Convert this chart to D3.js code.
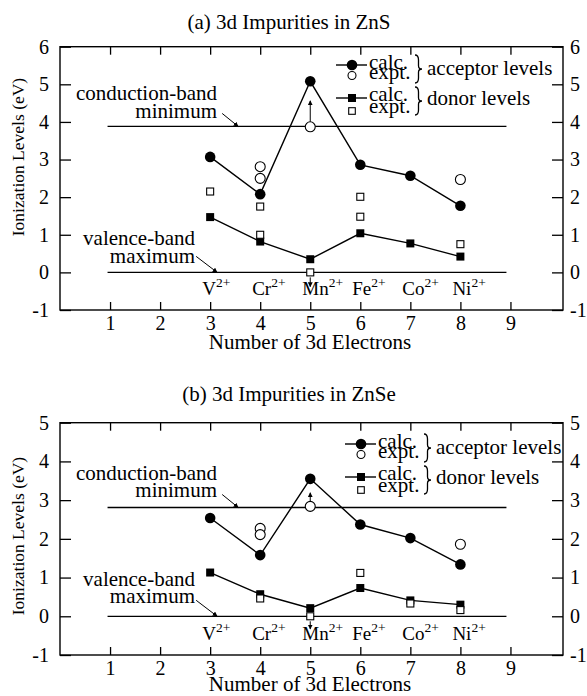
<!DOCTYPE html>
<html>
<head>
<meta charset="utf-8">
<script src="https://cdn.jsdelivr.net/npm/d3@7"></script>
<style>
  body { margin: 0; background: #fff; }
  text { font-family: "Liberation Serif", "Times New Roman", serif; fill: #000; }
</style>
</head>
<body>
<svg id="chart" width="587" height="696"></svg>
<script>
// Number of 3d electrons and the impurity ion for each
const electrons = [3, 4, 5, 6, 7, 8];
const ions = ["V", "Cr", "Mn", "Fe", "Co", "Ni"];
const xTicks = [1, 2, 3, 4, 5, 6, 7, 8, 9];

// ZnS host: ionization levels in eV
const znsYTicks = [-1, 0, 1, 2, 3, 4, 5, 6];
const znsAcceptorCalc = [3.07, 2.08, 5.08, 2.86, 2.57, 1.77];
const znsAcceptorExpt = [[4, 2.81], [4, 2.50], [5, 3.87], [8, 2.47]];
const znsDonorCalc = [1.47, 0.82, 0.35, 1.04, 0.77, 0.42];
const znsDonorExpt = [[3, 2.15], [4, 1.75], [4, 1.00], [5, 0.00], [6, 2.01], [6, 1.48], [8, 0.75]];
const znsConductionMin = 3.88;
const znsValenceMax = 0;
// bounds on Mn2+ levels: [electrons, measured level, arrow end]
const znsBounds = [[5, 3.87, 4.56], [5, 0.00, -0.38]];

// ZnSe host: ionization levels in eV
const znseYTicks = [-1, 0, 1, 2, 3, 4, 5];
const znseAcceptorCalc = [2.54, 1.58, 3.55, 2.37, 2.02, 1.34];
const znseAcceptorExpt = [[4, 2.27], [4, 2.11], [5, 2.84], [8, 1.86]];
const znseDonorCalc = [1.13, 0.57, 0.21, 0.73, 0.41, 0.30];
const znseDonorExpt = [[4, 0.46], [5, 0.00], [6, 1.12], [7, 0.33], [8, 0.16]];
const znseConductionMin = 2.81;
const znseValenceMax = 0;
const znseBounds = [[5, 2.84, 3.19], [5, 0.00, -0.33]];

const SERIF = "Liberation Serif, Times New Roman, serif";
const svg = d3.select("#chart");
const defs = svg.append("defs");
defs.append("marker")
  .attr("id", "head")
  .attr("viewBox", "0 0 10 10")
  .attr("refX", 9).attr("refY", 5)
  .attr("markerWidth", 5).attr("markerHeight", 5)
  .attr("markerUnits", "userSpaceOnUse")
  .attr("orient", "auto")
  .append("path").attr("d", "M0,0 L10,5 L0,10 Z").attr("fill", "#000");

const x = d3.scaleLinear().domain([0, 10.05]).range([60, 563]);

// right-facing curly brace between y0 and y1
function brace(x0, y0, y1, w) {
  const h = y1 - y0, m = (y0 + y1) / 2, xm = x0 + w * 0.5;
  return `M${x0},${y0} Q${xm},${y0} ${xm},${y0 + h * 0.18}` +
    ` L${xm},${m - h * 0.12} Q${xm},${m} ${x0 + w},${m}` +
    ` Q${xm},${m} ${xm},${m + h * 0.12} L${xm},${y1 - h * 0.18}` +
    ` Q${xm},${y1} ${x0},${y1}`;
}

function panel(cfg) {
  const g = svg.append("g").attr("font-family", SERIF);
  const y = d3.scaleLinear().domain(cfg.yDomain).range([cfg.bottom, cfg.top]);
  const x0 = x.range()[0], x1 = x.range()[1];

  // title
  g.append("text").attr("x", 289).attr("y", cfg.titleY)
    .attr("text-anchor", "middle").attr("font-size", 21).text(cfg.title);

  // frame
  g.append("rect").attr("x", x0).attr("y", cfg.top)
    .attr("width", x1 - x0).attr("height", cfg.bottom - cfg.top)
    .attr("fill", "none").attr("stroke", "#000").attr("stroke-width", 1.4);

  // inward ticks on all four sides
  const fmt = d => d < 0 ? "-" + Math.abs(d) : String(d);
  const axB = d3.axisBottom(x).tickValues(xTicks).tickSize(-8).tickSizeOuter(0).tickPadding(6).tickFormat(d3.format("d"));
  const axT = d3.axisTop(x).tickValues(xTicks).tickSize(-8).tickSizeOuter(0).tickFormat("");
  const axL = d3.axisLeft(y).tickValues(cfg.yTicks).tickSize(-11).tickSizeOuter(0).tickPadding(11).tickFormat(fmt);
  const axR = d3.axisRight(y).tickValues(cfg.yTicks).tickSize(-11).tickSizeOuter(0).tickPadding(7).tickFormat(fmt);
  [[axB, `translate(0,${cfg.bottom})`], [axT, `translate(0,${cfg.top})`],
   [axL, `translate(${x0},0)`], [axR, `translate(${x1},0)`]].forEach(([ax, tr]) => {
    const a = g.append("g").attr("transform", tr).call(ax);
    a.attr("font-family", SERIF);
    a.select(".domain").remove();
    a.selectAll("line").attr("stroke", "#000").attr("stroke-width", 1.3);
    a.selectAll("text").attr("font-size", 20);
  });

  // axis titles
  g.append("text").attr("x", 310).attr("y", cfg.xTitleY)
    .attr("text-anchor", "middle").attr("font-size", 21).text("Number of 3d Electrons");
  g.append("text")
    .attr("transform", `translate(24,${cfg.yTitleC}) rotate(-90)`)
    .attr("text-anchor", "middle").attr("font-size", 17.5).text("Ionization Levels (eV)");

  // band edges
  const band = (v) => g.append("line")
    .attr("x1", x(0.95)).attr("x2", x(8.92)).attr("y1", y(v)).attr("y2", y(v))
    .attr("stroke", "#000").attr("stroke-width", 1.3);
  band(cfg.cbm);
  band(cfg.vbm);

  // band labels with leaders
  const lab = (txt, xe, yb) => g.append("text").attr("x", xe).attr("y", yb)
    .attr("text-anchor", "end").attr("font-size", 21).text(txt);
  lab("conduction-band", 217, y(cfg.cbm) + cfg.cbOff[0]);
  lab("minimum", 217, y(cfg.cbm) + cfg.cbOff[1]);
  lab("valence-band", 195, y(cfg.vbm) + cfg.vbOff[0]);
  lab("maximum", 195, y(cfg.vbm) + cfg.vbOff[1]);
  const leader = (xd, v, dx, dy) => g.append("line")
    .attr("x1", x(xd) + dx).attr("y1", y(v) + dy).attr("x2", x(xd)).attr("y2", y(v))
    .attr("stroke", "#000").attr("stroke-width", 1).attr("marker-end", "url(#head)");
  leader(3.56, cfg.cbm, -16, -13);
  leader(3.14, cfg.vbm, -21, -16);

  // ion labels
  electrons.forEach((n, i) => {
    const t = g.append("text").attr("x", x(n) - 8).attr("y", y(-0.6)).attr("font-size", 19);
    t.append("tspan").text(ions[i]);
    t.append("tspan").attr("dy", -8).attr("font-size", 13.5).text("2+");
  });

  // series
  const line = d3.line().x((d, i) => x(electrons[i])).y(d => y(d));
  g.append("path").attr("d", line(cfg.accCalc)).attr("fill", "none").attr("stroke", "#000").attr("stroke-width", 1.4);
  g.append("path").attr("d", line(cfg.donCalc)).attr("fill", "none").attr("stroke", "#000").attr("stroke-width", 1.4);

  // bound arrows
  cfg.bounds.forEach(([n, v, e]) => {
    const dir = e > v ? -1 : 1;
    g.append("line").attr("x1", x(n)).attr("x2", x(n))
      .attr("y1", y(v) + dir * 5).attr("y2", y(e))
      .attr("stroke", "#000").attr("stroke-width", 1).attr("marker-end", "url(#head)");
  });

  g.selectAll(".accC").data(cfg.accCalc).join("circle")
    .attr("cx", (d, i) => x(electrons[i])).attr("cy", d => y(d)).attr("r", 5.3).attr("fill", "#000");
  g.selectAll(".donC").data(cfg.donCalc).join("rect")
    .attr("x", (d, i) => x(electrons[i]) - 4).attr("y", d => y(d) - 4)
    .attr("width", 8).attr("height", 8).attr("fill", "#000");
  g.selectAll(".accE").data(cfg.accExpt).join("circle")
    .attr("cx", d => x(d[0])).attr("cy", d => y(d[1])).attr("r", 5)
    .attr("fill", "#fff").attr("stroke", "#000").attr("stroke-width", 1.1);
  g.selectAll(".donE").data(cfg.donExpt).join("rect")
    .attr("x", d => x(d[0]) - 3.5).attr("y", d => y(d[1]) - 3.5)
    .attr("width", 7).attr("height", 7)
    .attr("fill", "#fff").attr("stroke", "#000").attr("stroke-width", 1.1);

  // legend
  const L = cfg.legend, mx = L.x, ty = L.y;
  const rows = [0, 10.5, 33, 46];
  g.append("line").attr("x1", mx - 16).attr("x2", mx + 15).attr("y1", ty + rows[0]).attr("y2", ty + rows[0]).attr("stroke", "#000").attr("stroke-width", 1.4);
  g.append("circle").attr("cx", mx).attr("cy", ty + rows[0]).attr("r", 5.3).attr("fill", "#000");
  g.append("circle").attr("cx", mx).attr("cy", ty + rows[1]).attr("r", 4).attr("fill", "#fff").attr("stroke", "#000").attr("stroke-width", 1.1);
  g.append("line").attr("x1", mx - 16).attr("x2", mx + 15).attr("y1", ty + rows[2]).attr("y2", ty + rows[2]).attr("stroke", "#000").attr("stroke-width", 1.4);
  g.append("rect").attr("x", mx - 4).attr("y", ty + rows[2] - 4).attr("width", 8).attr("height", 8).attr("fill", "#000");
  g.append("rect").attr("x", mx - 3.3).attr("y", ty + rows[3] - 3.3).attr("width", 6.6).attr("height", 6.6).attr("fill", "#fff").attr("stroke", "#000").attr("stroke-width", 1.1);
  const lt = (txt, dx, dy) => g.append("text").attr("x", mx + dx).attr("y", ty + dy).attr("font-size", 21).text(txt);
  lt("calc.", 17, rows[0] + 3.5);
  lt("expt.", 17, rows[1] + 3.5);
  lt("calc.", 17, rows[2] + 2.5);
  lt("expt.", 17, rows[3] + 1.5);
  g.append("path").attr("d", brace(mx + 63, ty - 10, ty + 18, 7)).attr("fill", "none").attr("stroke", "#000").attr("stroke-width", 1.3);
  g.append("path").attr("d", brace(mx + 63, ty + 22, ty + 50, 7)).attr("fill", "none").attr("stroke", "#000").attr("stroke-width", 1.3);
  lt("acceptor levels", 75, 10);
  lt("donor levels", 75, 40);
}

panel({
  title: "(a) 3d Impurities in ZnS", titleY: 29,
  top: 46.7, bottom: 310, yDomain: [-1, 6], yTicks: znsYTicks,
  xTitleY: 349, yTitleC: 157,
  accCalc: znsAcceptorCalc, accExpt: znsAcceptorExpt,
  donCalc: znsDonorCalc, donExpt: znsDonorExpt,
  cbm: znsConductionMin, vbm: znsValenceMax, bounds: znsBounds,
  cbOff: [-26, -8], vbOff: [-27, -9],
  legend: { x: 352, y: 65 }
});

panel({
  title: "(b) 3d Impurities in ZnSe", titleY: 401,
  top: 422.7, bottom: 655, yDomain: [-1, 5], yTicks: znseYTicks,
  xTitleY: 691, yTitleC: 536,
  accCalc: znseAcceptorCalc, accExpt: znseAcceptorExpt,
  donCalc: znseDonorCalc, donExpt: znseDonorExpt,
  cbm: znseConductionMin, vbm: znseValenceMax, bounds: znseBounds,
  cbOff: [-27, -10], vbOff: [-30, -13],
  legend: { x: 361, y: 444 }
});
</script>
</body>
</html>
